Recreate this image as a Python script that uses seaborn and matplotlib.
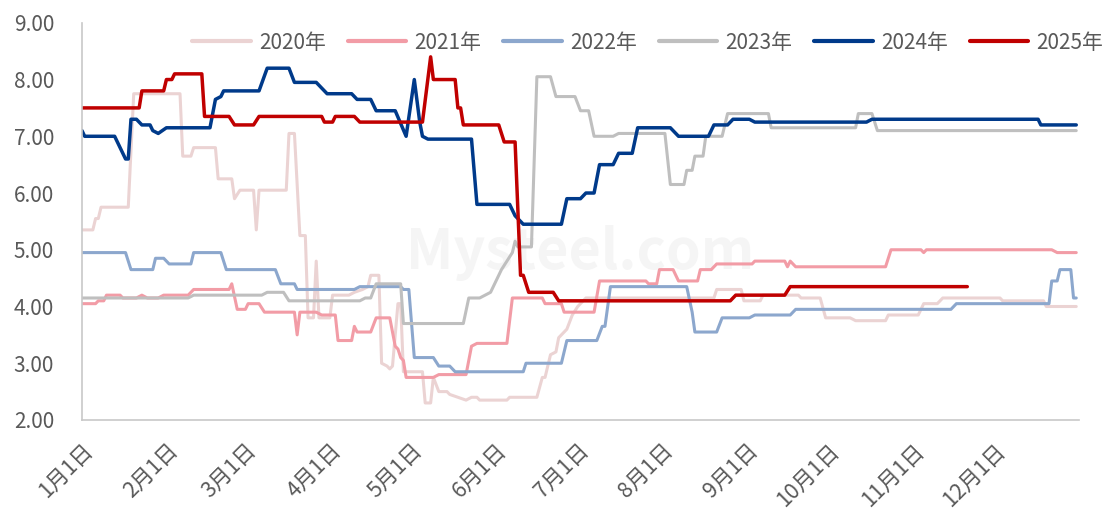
import matplotlib
matplotlib.use("Agg")
import matplotlib.pyplot as plt
import matplotlib.transforms as mtransforms
import seaborn as sns

# day of year (0 = 1月1日) and price for each year
days_2020 = [0,4,5,6,7,17,19,36,37,40,41,49,50,55,56,58,63,64,65,75,76,78,80,82,83,85,86,87,91,92,
             98,100,103,105,106,109,110,112,113,114,116,117,118,125,126,128,129,131,134,135,
             138,141,143,145,146,156,157,167,169,170,172,174,175,178,180,182,185,232,233,242,
             243,249,250,263,264,271,273,282,284,295,296,307,309,314,316,337,338,353,354,365]
vals_2020 = [5.35,5.35,5.55,5.55,5.75,5.75,7.75,7.75,6.65,6.65,6.8,6.8,6.25,6.25,5.9,6.05,6.05,5.35,6.05,6.05,
             7.05,7.05,5.25,5.25,3.8,3.8,4.8,3.8,3.8,4.2,4.2,4.25,4.3,4.35,4.55,4.55,3.0,2.95,2.9,2.95,
             4.05,4.05,2.85,2.85,2.3,2.3,2.75,2.5,2.5,2.45,2.4,2.35,2.4,2.4,2.35,2.35,2.4,2.4,2.75,2.75,
             3.15,3.2,3.45,3.6,3.85,4.0,4.15,4.15,4.3,4.3,4.1,4.1,4.2,4.2,4.15,4.15,3.8,3.8,3.75,3.75,
             3.85,3.85,4.05,4.05,4.15,4.15,4.1,4.1,4.0,4.0]

days_2021 = [0,5,6,8,9,14,15,20,22,24,28,30,39,41,54,55,57,60,61,65,67,78,79,80,86,88,93,94,99,100,
             101,106,108,113,115,116,117,118,119,129,131,141,143,145,156,158,169,170,176,177,
             188,190,207,208,211,212,217,219,226,227,231,233,246,247,258,259,260,262,295,297,
             308,309,310,356,358,365]
vals_2021 = [4.05,4.05,4.1,4.1,4.2,4.2,4.15,4.15,4.2,4.15,4.15,4.2,4.2,4.3,4.3,4.4,3.95,3.95,4.05,4.05,
             3.9,3.9,3.5,3.9,3.9,3.85,3.85,3.4,3.4,3.65,3.55,3.55,3.8,3.8,3.3,3.25,3.1,3.05,2.75,2.75,
             2.8,2.8,3.3,3.35,3.35,4.15,4.15,4.05,4.05,3.9,3.9,4.45,4.45,4.4,4.4,4.65,4.65,4.45,4.45,4.65,
             4.65,4.75,4.75,4.8,4.8,4.7,4.8,4.7,4.7,5.0,5.0,4.95,5.0,5.0,4.95,4.95]

days_2022 = [0,16,18,26,27,30,32,40,41,51,53,71,73,78,79,100,102,117,118,120,122,129,131,135,137,
             162,163,176,178,189,191,192,194,222,224,225,233,235,245,247,260,262,319,321,355,
             356,358,359,363,364,365]
vals_2022 = [4.95,4.95,4.65,4.65,4.85,4.85,4.75,4.75,4.95,4.95,4.65,4.65,4.4,4.4,4.3,4.3,4.35,4.35,4.3,4.3,
             3.1,3.1,2.95,2.95,2.85,2.85,3.0,3.0,3.4,3.4,3.65,3.65,4.35,4.35,3.9,3.55,3.55,3.8,3.8,3.85,
             3.85,3.95,3.95,4.05,4.05,4.45,4.45,4.65,4.65,4.15,4.15]

days_2023 = [0,39,41,66,68,74,76,102,104,106,108,117,118,140,142,146,148,150,152,154,156,158,159,160,165,
             167,172,174,181,183,186,188,195,197,214,216,221,222,224,225,228,229,235,237,252,253,
             284,285,290,292,365]
vals_2023 = [4.15,4.15,4.2,4.2,4.25,4.25,4.1,4.1,4.15,4.15,4.4,4.4,3.7,3.7,4.15,4.15,4.2,4.25,4.45,4.65,
             4.8,4.95,5.15,5.05,5.05,8.05,8.05,7.7,7.7,7.45,7.45,7.0,7.0,7.05,7.05,6.15,6.15,6.4,6.4,6.65,
             6.65,7.0,7.0,7.4,7.4,7.15,7.15,7.4,7.4,7.1,7.1]

days_2024 = [0,1,12,14,16,17,18,20,22,25,26,28,31,47,49,51,52,65,68,76,78,86,88,90,99,101,106,108,115,119,
             122,124,125,127,143,145,157,159,162,176,178,183,185,188,190,195,197,202,204,216,
             219,230,232,237,239,245,247,288,290,351,352,365]
vals_2024 = [7.1,7.0,7.0,6.8,6.6,6.6,7.3,7.3,7.2,7.2,7.1,7.05,7.15,7.15,7.65,7.7,7.8,7.8,8.2,8.2,
             7.95,7.95,7.85,7.75,7.75,7.65,7.65,7.45,7.45,7.0,8.0,7.25,7.0,6.95,6.95,5.8,5.8,5.6,5.45,5.45,
             5.9,5.9,6.0,6.0,6.5,6.5,6.7,6.7,7.15,7.15,7.0,7.0,7.2,7.2,7.3,7.3,7.25,7.25,7.3,7.3,7.2,7.2]

days_2025 = [0,21,22,30,31,33,34,44,45,54,56,63,65,88,89,92,93,100,102,125,128,129,137,138,139,140,
             153,155,159,161,162,164,173,175,238,240,258,260,325]
vals_2025 = [7.5,7.5,7.8,7.8,8.0,8.0,8.1,8.1,7.35,7.35,7.2,7.2,7.35,7.35,7.25,7.25,7.35,7.35,7.25,7.25,
             8.4,8.0,8.0,7.5,7.5,7.2,7.2,6.9,6.9,4.55,4.55,4.25,4.25,4.1,4.1,4.2,4.2,4.35,4.35]

month_starts = [0, 31, 60, 91, 121, 152, 182, 213, 244, 274, 305, 335]
month_labels = ["1月1日", "2月1日", "3月1日", "4月1日", "5月1日", "6月1日",
                "7月1日", "8月1日", "9月1日", "10月1日", "11月1日", "12月1日"]

series = [
    ("2020年", days_2020, vals_2020, "#EBD3D3", 2.2),
    ("2021年", days_2021, vals_2021, "#F29CA6", 2.2),
    ("2022年", days_2022, vals_2022, "#8CA7CD", 2.2),
    ("2023年", days_2023, vals_2023, "#BFBFBF", 2.2),
    ("2024年", days_2024, vals_2024, "#003A8A", 2.5),
    ("2025年", days_2025, vals_2025, "#C00000", 2.5),
]

sns.set_style("white")
plt.rcParams["font.family"] = ["Noto Sans CJK SC", "DejaVu Sans"]

fig = plt.figure(figsize=(11.12, 5.09), dpi=100)
ax = fig.add_axes([0.0737, 0.1749, 0.8966, 0.7803])

# faint watermark
ax.text(0.5, 0.42, "Mysteel.com", transform=ax.transAxes, ha="center", va="center",
        fontsize=40, fontweight="bold", color="#F5F5F5", zorder=0)

for name, d, v, c, lw in series:
    sns.lineplot(x=d, y=v, color=c, linewidth=lw, label=name, ax=ax,
                 estimator=None, sort=False)

ax.set_xlim(0, 366)
ax.set_ylim(2, 9)
ax.set_yticks([2, 3, 4, 5, 6, 7, 8, 9])
ax.set_yticklabels([f"{t:.2f}" for t in range(2, 10)])
ax.set_xticks(month_starts + [366])
ax.set_xticklabels(month_labels + [""], rotation=45, ha="right", va="top",
                   rotation_mode="anchor")
shift = mtransforms.ScaledTranslation(-3 / 100, 0, fig.dpi_scale_trans)
for lab in ax.get_xticklabels():
    lab.set_transform(lab.get_transform() + shift)
ax.set_xlabel("")
ax.set_ylabel("")

for s in ["top", "right"]:
    ax.spines[s].set_visible(False)
for s in ["left", "bottom"]:
    ax.spines[s].set_color("#C8C8C8")
    ax.spines[s].set_linewidth(1.2)
ax.tick_params(axis="both", colors="#C8C8C8", length=5, width=1.2, labelcolor="#595959")
ax.tick_params(axis="y", labelsize=15, pad=15)
ax.tick_params(axis="x", labelsize=15.5, pad=9)

leg = ax.legend(loc="upper center", bbox_to_anchor=(0.5675, 1.025), ncol=6, frameon=False,
                fontsize=15, handlelength=2.8, columnspacing=1.05, handletextpad=0.4)
for t in leg.get_texts():
    t.set_color("#595959")
for h in leg.get_lines():
    h.set_linewidth(3)

fig.savefig("out.png", dpi=100)
